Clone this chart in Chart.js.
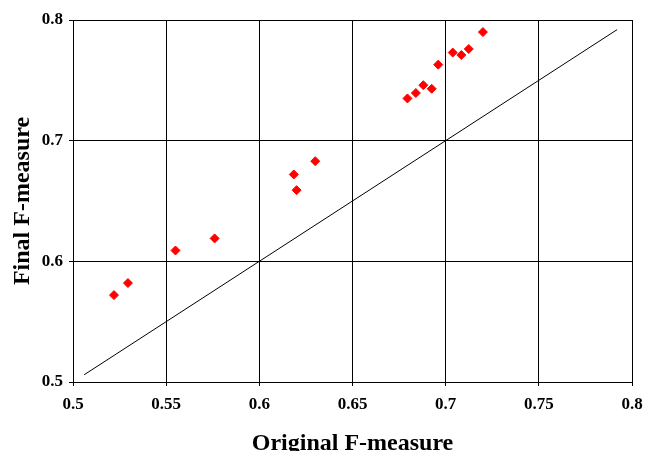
<!DOCTYPE html>
<html>
<head>
<meta charset="utf-8">
<script src="https://cdn.jsdelivr.net/npm/chart.js@4/dist/chart.umd.min.js"></script>
<style>
  html, body { margin:0; padding:0; background:#fff; }
  #wrap { width:646px; height:451px; }
</style>
</head>
<body>
<div id="wrap"><canvas id="chart" width="646" height="451"></canvas></div>
<script>
  const originalF = [0.522,0.5295,0.555,0.576,0.6185,0.620,0.630,0.6795,0.684,0.688,0.6925,0.696,0.7038,0.7084,0.7124,0.720];
  const finalF    = [0.572,0.582,0.609,0.619,0.672,0.659,0.683,0.735,0.7395,0.746,0.743,0.763,0.773,0.771,0.776,0.790];

  // y = x reference line
  const diagX = [0.506, 0.792];
  const diagY = [0.506, 0.792];

  const xTickLabels = ["0.5","0.55","0.6","0.65","0.7","0.75","0.8"];
  const yTickLabels = ["0.5","0.6","0.7","0.8"];

  const serif = "'Liberation Serif', 'Times New Roman', serif";

  new Chart(document.getElementById("chart"), {
    type: "scatter",
    data: {
      datasets: [
        {
          data: originalF.map((x, i) => ({ x, y: finalF[i] })),
          pointStyle: "rectRot",
          pointRadius: 4.5,
          pointBackgroundColor: "#ff0000",
          pointBorderColor: "#ff0000",
          pointBorderWidth: 1
        },
        {
          type: "line",
          data: diagX.map((x, i) => ({ x, y: diagY[i] })),
          borderColor: "#000",
          borderWidth: 1,
          pointRadius: 0,
          fill: false
        }
      ]
    },
    options: {
      responsive: false,
      animation: false,
      layout: { padding: { top: 20, right: 14, left: 0, bottom: 0 } },
      plugins: { legend: { display: false }, tooltip: { enabled: false } },
      scales: {
        x: {
          type: "linear", min: 0.5, max: 0.8,
          ticks: {
            stepSize: 0.05,
            color: "#000",
            padding: 8,
            maxRotation: 0,
            font: { family: serif, size: 17, weight: "bold" },
            callback: (v, i) => xTickLabels[i]
          },
          grid: { color: "#000", lineWidth: 1, tickLength: 4 },
          border: { color: "#000", width: 1 },
          title: {
            display: true, text: "Original F-measure", color: "#000",
            font: { family: serif, size: 24, weight: "bold" },
            padding: { top: 0, bottom: -7 }
          },
          afterFit: s => { s.height = 69; s.paddingLeft = 0; s.paddingRight = 0; }
        },
        y: {
          type: "linear", min: 0.5, max: 0.8,
          ticks: {
            stepSize: 0.1,
            color: "#000",
            padding: 6,
            font: { family: serif, size: 17, weight: "bold" },
            callback: (v, i) => yTickLabels[i]
          },
          grid: { color: "#000", lineWidth: 1, tickLength: 4 },
          border: { color: "#000", width: 1 },
          title: {
            display: true, text: "Final F-measure", color: "#000",
            font: { family: serif, size: 24, weight: "bold" },
            padding: { top: 8, bottom: 0 }
          },
          afterFit: s => { s.width = 73; s.paddingTop = 0; s.paddingBottom = 0; }
        }
      }
    }
  });
</script>
</body>
</html>
